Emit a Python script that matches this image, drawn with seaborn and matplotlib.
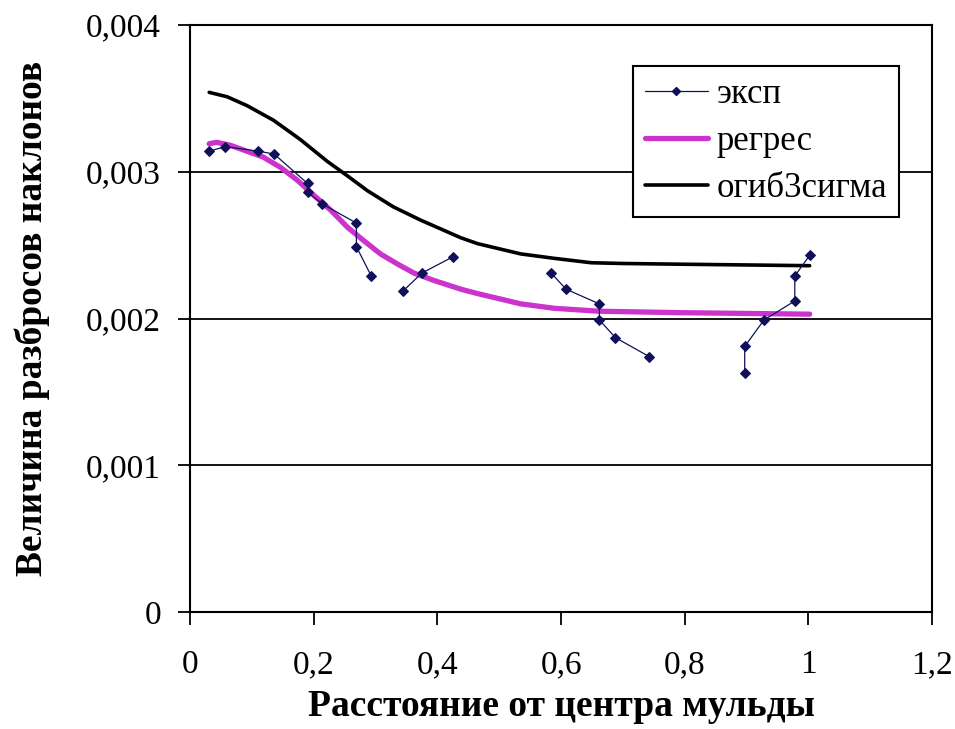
import pandas as pd
import matplotlib
matplotlib.use("Agg")
import matplotlib.pyplot as plt
from matplotlib.ticker import FuncFormatter
import seaborn as sns

# experimental points (four separate runs along the profile)
exp_x = [0.031, 0.057, 0.110, 0.136, 0.190, 0.190, 0.214, 0.269, 0.269, 0.293,
         0.345, 0.375, 0.425,
         0.584, 0.608, 0.662, 0.662, 0.688, 0.743,
         0.897, 0.897, 0.928, 0.978, 0.978, 1.002]
exp_y = [0.00314, 0.00317, 0.00314, 0.00312, 0.00292, 0.00286, 0.00278, 0.00265, 0.00249, 0.00229,
         0.00219, 0.00231, 0.00242,
         0.00231, 0.00220, 0.00210, 0.00199, 0.00187, 0.00174,
         0.00163, 0.00181, 0.00199, 0.00212, 0.00229, 0.00243]
exp_group = [1] * 10 + [2] * 3 + [3] * 6 + [4] * 6

# regression curve
reg_x = [0.031, 0.043, 0.065, 0.118, 0.146, 0.174, 0.200, 0.227, 0.255, 0.281, 0.308,
         0.336, 0.362, 0.394, 0.438, 0.465, 0.535, 0.589, 0.662, 0.795, 1.002]
reg_y = [0.00319, 0.00320, 0.00318, 0.00310, 0.00303, 0.00294, 0.00284, 0.00274, 0.00262,
         0.00253, 0.00244, 0.00237, 0.00231, 0.00226, 0.00220, 0.00217, 0.00210, 0.00207,
         0.00205, 0.00204, 0.00203]

# 3-sigma envelope
env_x = [0.031, 0.060, 0.092, 0.135, 0.178, 0.222, 0.255, 0.287, 0.329, 0.373, 0.438,
         0.465, 0.535, 0.589, 0.649, 0.700, 0.795, 0.900, 1.002]
env_y = [0.00354, 0.00351, 0.00345, 0.00335, 0.00322, 0.00307, 0.00297, 0.00287, 0.00276,
         0.00267, 0.00255, 0.00251, 0.00244, 0.00241, 0.00238, 0.002375, 0.00237, 0.002365,
         0.00236]

labels = ["эксп", "регрес", "огиб3сигма"]
x_ticks = [0, 0.2, 0.4, 0.6, 0.8, 1.0, 1.2]
y_ticks = [0, 0.001, 0.002, 0.003, 0.004]

sns.set_style("white")
plt.rcParams["font.family"] = ["Liberation Serif", "DejaVu Serif"]
plt.rcParams["text.color"] = "black"
plt.rcParams["axes.labelcolor"] = "black"

exp_df = pd.DataFrame({"x": exp_x, "y": exp_y, "g": exp_group})
reg_df = pd.DataFrame({"x": reg_x, "y": reg_y})
env_df = pd.DataFrame({"x": env_x, "y": env_y})

fig = plt.figure(figsize=(9.55, 7.29), dpi=100)
ax = fig.add_axes([0.199, 0.16, 0.777, 0.806])

# experimental data, each run drawn as its own polyline
sns.lineplot(data=exp_df, x="x", y="y", units="g", estimator=None, sort=False,
             color="#10105a", linewidth=0.9, marker="D", markersize=5.5,
             markeredgecolor="#10105a", ax=ax, legend=False, zorder=4)
sns.lineplot(data=reg_df, x="x", y="y", sort=False, color="#cc33cc",
             linewidth=3.8, ax=ax, legend=False, zorder=3)
sns.lineplot(data=env_df, x="x", y="y", sort=False, color="black",
             linewidth=2.6, ax=ax, legend=False, zorder=3)

ax.set_xlim(0, 1.2)
ax.set_ylim(0, 0.004)
ax.set_xticks(x_ticks)
ax.set_yticks(y_ticks)
fmt = FuncFormatter(lambda v, p: f"{v:g}".replace(".", ","))
ax.xaxis.set_major_formatter(fmt)
ax.yaxis.set_major_formatter(fmt)
ax.tick_params(axis="both", labelsize=24, colors="black", direction="out",
               length=9, width=1.3, left=True, bottom=True)
ax.tick_params(axis="x", pad=18)
ax.tick_params(axis="y", pad=12)

ax.yaxis.grid(True, color="black", linewidth=1.3)
ax.xaxis.grid(False)
for s in ax.spines.values():
    s.set_color("black")
    s.set_linewidth(1.5)

ax.set_xlabel("Расстояние от центра мульды", fontsize=27, fontweight="bold", labelpad=6)
ax.set_ylabel("Величина разбросов наклонов", fontsize=27, fontweight="bold", labelpad=26)

handles = [
    plt.Line2D([], [], color="#10105a", linewidth=0.9, marker="D", markersize=4),
    plt.Line2D([], [], color="#cc33cc", linewidth=3.8),
    plt.Line2D([], [], color="black", linewidth=2.6),
]
leg = ax.legend(handles, labels, loc="upper left", bbox_to_anchor=(0.597, 0.93),
                fontsize=25, frameon=True, fancybox=False, framealpha=1,
                edgecolor="black", borderpad=0.35, handlelength=1.8,
                handletextpad=0.25, labelspacing=0.4, borderaxespad=0)
leg.get_frame().set_linewidth(1.5)

fig.savefig("out.png", dpi=100)
